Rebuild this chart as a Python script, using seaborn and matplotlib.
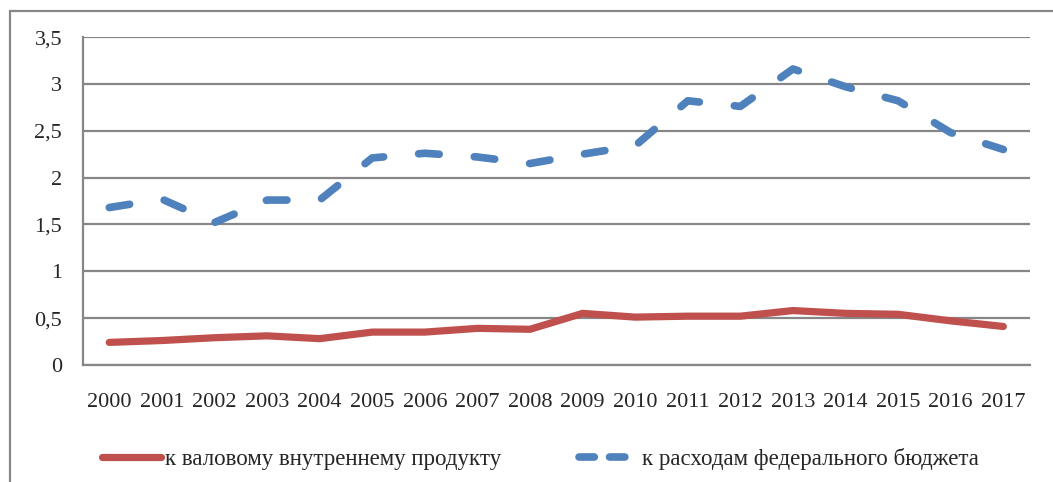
import seaborn as sns
import matplotlib.pyplot as plt
import pandas as pd
from matplotlib.ticker import FuncFormatter, MultipleLocator
from matplotlib.patches import Rectangle
from matplotlib.lines import Line2D

years = list(range(2000, 2018))
gdp_share = [0.24, 0.26, 0.29, 0.31, 0.28, 0.35, 0.35, 0.39, 0.38, 0.55, 0.51, 0.52,
             0.52, 0.58, 0.55, 0.54, 0.47, 0.41]
budget_share = [1.68, 1.77, 1.52, 1.76, 1.76, 2.21, 2.26, 2.22, 2.15, 2.25, 2.34, 2.82,
                2.76, 3.16, 2.97, 2.82, 2.48, 2.30]
label_gdp = 'к валовому внутреннему продукту'
label_budget = 'к расходам федерального бюджета'

df = pd.DataFrame({'year': years, 'gdp': gdp_share, 'budget': budget_share})

sns.set_style('white')
plt.rcParams['font.family'] = ['Liberation Serif', 'DejaVu Serif']

red = '#C0504D'
blue = '#4F81BD'
grey = '#878787'

fig = plt.figure(figsize=(10.53, 4.82), dpi=100)
ax = fig.add_axes([0.0788, 0.243, 0.899, 0.680])

sns.lineplot(data=df, x='year', y='gdp', ax=ax, color=red, linewidth=5.2,
             solid_capstyle='round', solid_joinstyle='round')
sns.lineplot(data=df, x='year', y='budget', ax=ax, color=blue, linewidth=5.5)
bl = ax.lines[-1]
bl.set_dashes((2.7, 4.6))
bl.set_dash_capstyle('round')
bl.set_dash_joinstyle('round')

ax.set_xlim(1999.5, 2017.5)
ax.set_ylim(0, 3.5)
ax.yaxis.set_major_locator(MultipleLocator(0.5))
ax.yaxis.set_major_formatter(FuncFormatter(lambda v, p: f'{v:g}'.replace('.', ',')))
ax.set_xticks(years)
ax.set_xticklabels([str(y) for y in years])
ax.set_xticks([y + 0.5 for y in range(1999, 2018)], minor=True)
ax.tick_params(axis='x', which='major', length=0, pad=20, labelsize=16)
ax.tick_params(axis='x', which='minor', length=6, width=1.6, color=grey, direction='out')
ax.tick_params(axis='y', which='major', length=6, width=1.6, color=grey, direction='out',
               labelsize=16, pad=9)
ax.grid(axis='y', color=grey, linewidth=1.6)
ax.set_axisbelow(True)
for s in ['top', 'right']:
    ax.spines[s].set_visible(False)
for s in ['left', 'bottom']:
    ax.spines[s].set_color(grey)
    ax.spines[s].set_linewidth(1.6)
ax.set_xlabel('')
ax.set_ylabel('')

handles = [Line2D([], [], color=red, linewidth=5.2),
           Line2D([], [], color=blue, linewidth=5.5, dashes=(2.0, 2.0), dash_capstyle='round')]
fig.legend(handles, [label_gdp, label_budget], loc='center', bbox_to_anchor=(0.513, 0.048),
           ncol=2, frameon=False, fontsize=16.5, handlelength=2.6, columnspacing=3.4,
           handletextpad=0.15)

fig.add_artist(Rectangle((10 / 1053, -0.1), 1.2, 1 - 11 / 482 + 0.1, transform=fig.transFigure,
                         fill=False, edgecolor=grey, linewidth=1.6))

fig.savefig('out.png', dpi=100)
